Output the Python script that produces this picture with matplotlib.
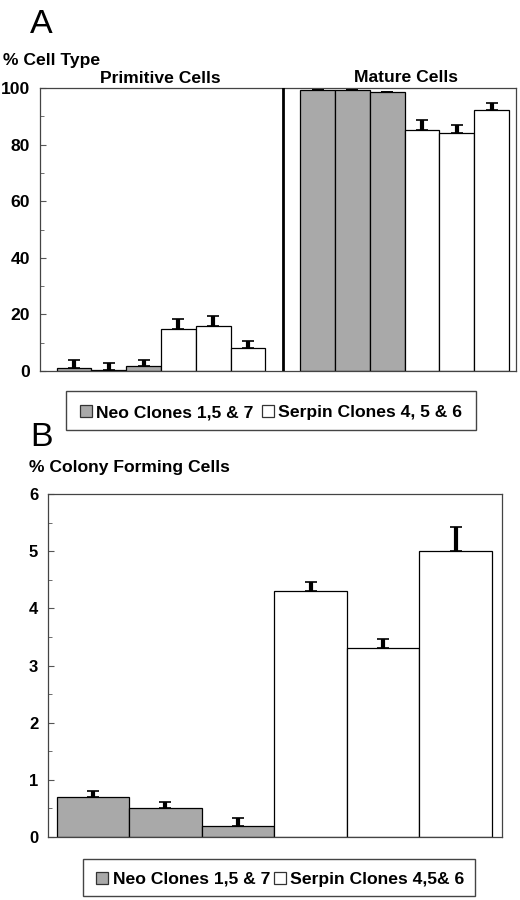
import matplotlib
matplotlib.use("Agg")
import matplotlib.pyplot as plt
from matplotlib.patches import Rectangle
from matplotlib.ticker import MultipleLocator

plt.rcParams['font.family'] = ['Liberation Sans', 'DejaVu Sans']

# panel A: % cell type
prim_neo = [0.9, 0.2, 1.6]
prim_serpin = [15.0, 15.9, 8.0]
prim_neo_err = [2.9, 2.6, 2.4]
prim_serpin_err = [3.5, 3.5, 2.6]
mat_neo = [99.2, 99.2, 98.7]
mat_serpin = [85.2, 84.1, 92.2]
mat_neo_err = [0.0, 0.0, 0.0]
mat_serpin_err = [3.5, 2.8, 2.4]
yticks_a = [0, 20, 40, 60, 80, 100]

# panel B: % colony forming cells
cfc_neo = [0.70, 0.50, 0.20]
cfc_serpin = [4.30, 3.30, 5.00]
cfc_neo_err = [0.10, 0.11, 0.13]
cfc_serpin_err = [0.16, 0.17, 0.43]
yticks_b = [0, 1, 2, 3, 4, 5, 6]

legend_a = ["Neo Clones 1,5 & 7", "Serpin Clones 4, 5 & 6"]
legend_b = ["Neo Clones 1,5 & 7", "Serpin Clones 4,5& 6"]

GRAY = "#a9a9a9"
W, H = 520, 900
FS = 12.6


def fx(x):
    return x / W


def fy(y):
    return 1 - y / H


def draw_bars(ax, pos, vals, errs, color):
    ax.bar(pos, vals, width=1.0, color=color, edgecolor="black", linewidth=0.9, zorder=2)
    lower = [0] * len(vals)
    ax.errorbar(pos, vals, yerr=[lower, errs], fmt="none", ecolor="black",
                elinewidth=3, capsize=4.5, capthick=1.2, zorder=3)


def style_axes(ax, major, minor, size):
    for s in ax.spines.values():
        s.set_color("#444444")
        s.set_linewidth(0.9)
    ax.yaxis.set_major_locator(MultipleLocator(major))
    ax.yaxis.set_minor_locator(MultipleLocator(minor))
    ax.tick_params(axis="y", which="both", direction="in", color="#555555",
                   labelsize=size, pad=7)
    ax.tick_params(axis="y", which="major", length=4)
    ax.tick_params(axis="y", which="minor", length=3)
    ax.tick_params(axis="x", direction="in", length=4, color="#555555",
                   labelbottom=False)
    for lab in ax.get_yticklabels():
        lab.set_fontweight("bold")


def draw_legend(fig, box, squares, texts, labels):
    x0, y0, x1, y1 = box
    fig.patches.append(Rectangle((fx(x0), fy(y1)), fx(x1 - x0), (y1 - y0) / H,
                                 transform=fig.transFigure, facecolor="white",
                                 edgecolor="#444444", linewidth=1.0))
    for (sx, sy), color in zip(squares, [GRAY, "white"]):
        fig.patches.append(Rectangle((fx(sx), fy(sy + 12)), fx(12), 12 / H,
                                     transform=fig.transFigure, facecolor=color,
                                     edgecolor="#333333", linewidth=0.9))
    for (tx, ty), lab in zip(texts, labels):
        fig.text(fx(tx), fy(ty), lab, fontsize=FS, fontweight="bold",
                 va="baseline", ha="left")


fig = plt.figure(figsize=(5.2, 9), dpi=100)

# ---------- panel A ----------
axA = fig.add_axes([fx(40), fy(371), fx(476), (371 - 88) / H])
draw_bars(axA, [0, 1, 2], prim_neo, prim_neo_err, GRAY)
draw_bars(axA, [3, 4, 5], prim_serpin, prim_serpin_err, "white")
draw_bars(axA, [7, 8, 9], mat_neo, mat_neo_err, GRAY)
draw_bars(axA, [10, 11, 12], mat_serpin, mat_serpin_err, "white")
axA.axvline(6, color="black", linewidth=2, zorder=4)
axA.set_xlim(-0.98, 12.7)
axA.set_ylim(0, 100)
axA.set_xticks([0, 1, 2, 3, 4, 5, 7, 8, 9, 10, 11, 12])
axA.set_yticks(yticks_a)
style_axes(axA, 20, 10, FS)

fig.text(fx(30), fy(33), "A", fontsize=24.5, va="baseline", ha="left")
fig.text(fx(3), fy(65), "% Cell Type", fontsize=FS, fontweight="bold", va="baseline")
fig.text(fx(160), fy(83), "Primitive Cells", fontsize=FS, fontweight="bold",
         va="baseline", ha="center")
fig.text(fx(406), fy(82), "Mature Cells", fontsize=FS, fontweight="bold",
         va="baseline", ha="center")

draw_legend(fig, (66, 391, 476, 430), [(80, 405), (262, 405)],
            [(96, 417), (278, 417)], legend_a)

# ---------- panel B ----------
axB = fig.add_axes([fx(48), fy(837), fx(454), (837 - 494) / H])
draw_bars(axB, [0, 1, 2], cfc_neo, cfc_neo_err, GRAY)
draw_bars(axB, [3, 4, 5], cfc_serpin, cfc_serpin_err, "white")
axB.set_xlim(-0.62, 5.64)
axB.set_ylim(0, 6)
axB.set_xticks([0, 1, 2, 3, 4, 5])
axB.set_yticks(yticks_b)
style_axes(axB, 1, 0.5, 12)

fig.text(fx(30), fy(446), "B", fontsize=24.5, va="baseline", ha="left")
fig.text(fx(29), fy(472), "% Colony Forming Cells", fontsize=FS, fontweight="bold",
         va="baseline")

draw_legend(fig, (83, 859, 475, 896), [(96, 872), (274, 872)],
            [(113, 884), (290, 884)], legend_b)

fig.savefig("out.png", dpi=100, facecolor="white")
